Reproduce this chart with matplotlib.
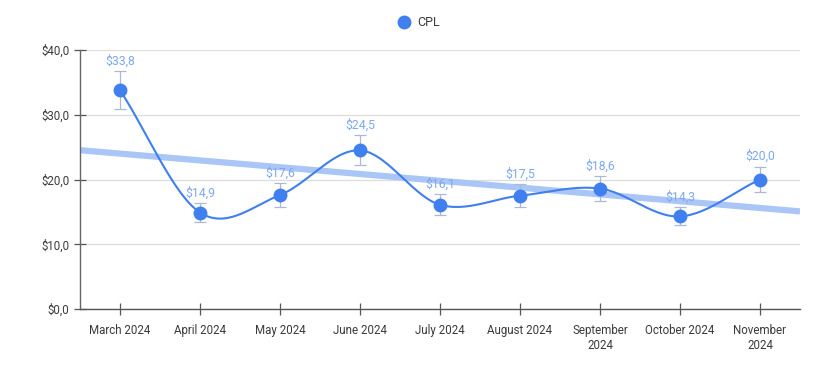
import numpy as np
import matplotlib.pyplot as plt

plt.rcParams['font.family'] = ['Roboto', 'DejaVu Sans']

months = ["March 2024", "April 2024", "May 2024", "June 2024", "July 2024",
          "August 2024", "September\n2024", "October 2024", "November\n2024"]
cpl = [33.8, 14.9, 17.6, 24.5, 16.1, 17.5, 18.6, 14.3, 20.0]
cpl_err = [2.9, 1.5, 1.8, 2.3, 1.6, 1.8, 1.9, 1.4, 2.0]
# trend line as read at first and last month
trend_ends = [24.0, 15.6]

y_ticks = [0, 10, 20, 30, 40]

line_color = "#3f7fee"
label_color = "#7ea7ef"
err_color = "#a9b9d6"
trend_color = "#aac6f6"


def catmull_rom(x, y, n=30):
    x = np.asarray(x, float)
    y = np.asarray(y, float)
    px = np.concatenate([[2 * x[0] - x[1]], x, [2 * x[-1] - x[-2]]])
    py = np.concatenate([[2 * y[0] - y[1]], y, [2 * y[-1] - y[-2]]])
    xs, ys = [], []
    t = np.linspace(0, 1, n)
    for i in range(1, len(px) - 2):
        p0, p1, p2, p3 = py[i - 1], py[i], py[i + 1], py[i + 2]
        seg = 0.5 * ((2 * p1) + (-p0 + p2) * t
                     + (2 * p0 - 5 * p1 + 4 * p2 - p3) * t ** 2
                     + (-p0 + 3 * p1 - 3 * p2 + p3) * t ** 3)
        xs.append(px[i] + (px[i + 1] - px[i]) * t)
        ys.append(seg)
    return np.concatenate(xs), np.concatenate(ys)


x = np.arange(len(months))

fig = plt.figure(figsize=(8.2, 3.78), dpi=100)
ax = fig.add_axes([80 / 820, 1 - 309 / 378, 720 / 820, 259 / 378])

# trend line
slope = (trend_ends[1] - trend_ends[0]) / (len(months) - 1)
tx = np.array([-0.5, len(months) - 0.5])
ty = trend_ends[0] + slope * tx
ax.plot(tx, ty, color=trend_color, lw=4.5, solid_capstyle="butt", zorder=2)

# smooth series line
sx, sy = catmull_rom(x, cpl)
ax.plot(sx, sy, color=line_color, lw=1.5, zorder=3)

ax.errorbar(x, cpl, yerr=cpl_err, fmt="none", ecolor=err_color,
            elinewidth=0.9, capsize=4, capthick=0.9, zorder=3)
ax.plot(x, cpl, "o", color=line_color, ms=9, zorder=4, label="CPL")

for xi, v, e in zip(x, cpl, cpl_err):
    ax.annotate(f"${v:.1f}".replace(".", ","), (xi, v + e), xytext=(0, 2.5),
                textcoords="offset points", ha="center", va="bottom",
                fontsize=8.8, color=label_color, zorder=5)

ax.set_xlim(-0.5, len(months) - 0.5)
ax.set_ylim(0, 40)
ax.set_yticks(y_ticks)
ax.set_yticklabels([f"${v:.1f}".replace(".", ",") for v in y_ticks])
ax.set_xticks(x)
ax.set_xticklabels(months)

ax.grid(axis="y", color="#dddddd", lw=0.9)
ax.set_axisbelow(True)
for s in ["top", "right"]:
    ax.spines[s].set_visible(False)
ax.spines["left"].set_color("#666666")
ax.spines["bottom"].set_color("#555555")
ax.spines["left"].set_linewidth(1.0)
ax.spines["bottom"].set_linewidth(1.0)
ax.tick_params(axis="both", direction="inout", length=9, width=0.9,
               color="#555555", labelsize=8.3, labelcolor="#3a3a3a")
ax.tick_params(axis="y", pad=3)
ax.tick_params(axis="x", pad=6)

leg = fig.legend(loc="center", bbox_to_anchor=(419 / 820, 1 - 23 / 378),
                 frameon=False, fontsize=9, handletextpad=0.6,
                 handlelength=1.0, markerscale=1.0)
for txt in leg.get_texts():
    txt.set_color("#3a3a3a")

fig.savefig("out.png", dpi=100)
